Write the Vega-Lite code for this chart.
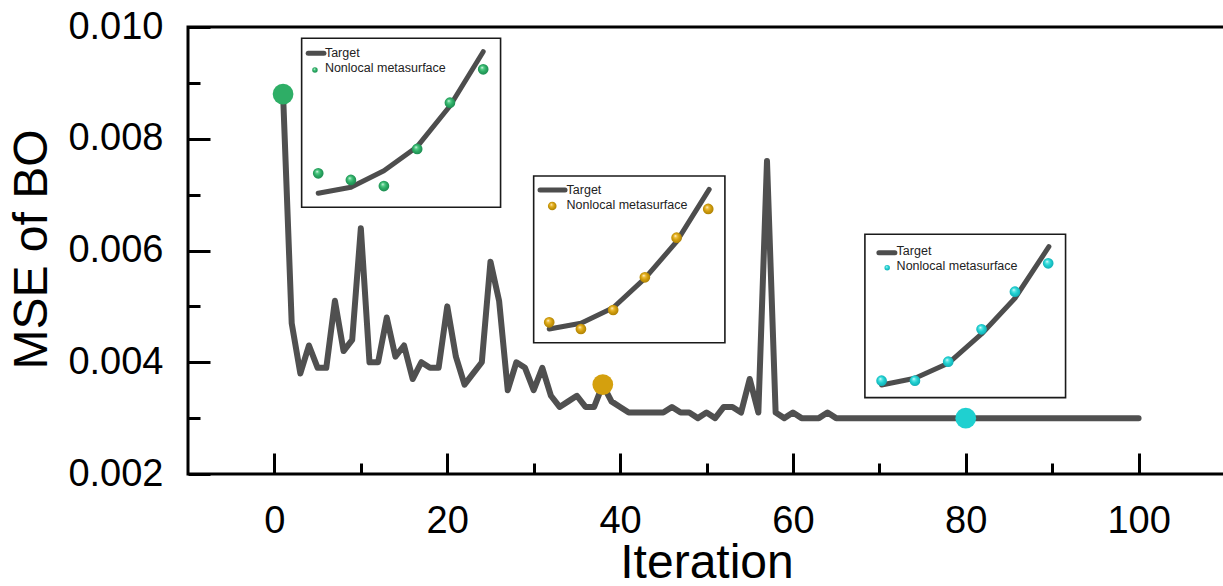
{
  "$schema": "https://vega.github.io/schema/vega-lite/v6.json",
  "width": 1037,
  "height": 447,
  "autosize": {"type": "none"},
  "padding": {"left": 188, "top": 27, "right": 0, "bottom": 112},
  "background": "white",
  "config": {
    "view": {"stroke": "#000", "strokeWidth": 3},
    "axis": {
      "domain": false, "grid": false, "tickColor": "#000", "tickWidth": 3,
      "labelColor": "#000", "titleColor": "#000",
      "labelFont": "Liberation Sans", "titleFont": "Liberation Sans",
      "labelFontSize": 38, "titleFontSize": 48, "titleFontWeight": "normal",
      "labelFlush": false, "labelOverlap": false
    },
    "text": {"font": "Liberation Sans"}
  },
  "datasets": {
    "main": [
      {"iteration": 1, "mse": 0.0088}, {"iteration": 2, "mse": 0.0047}, {"iteration": 3, "mse": 0.0038},
      {"iteration": 4, "mse": 0.0043}, {"iteration": 5, "mse": 0.0039}, {"iteration": 6, "mse": 0.0039},
      {"iteration": 7, "mse": 0.0051}, {"iteration": 8, "mse": 0.0042}, {"iteration": 9, "mse": 0.0044},
      {"iteration": 10, "mse": 0.0064}, {"iteration": 11, "mse": 0.0040}, {"iteration": 12, "mse": 0.0040},
      {"iteration": 13, "mse": 0.0048}, {"iteration": 14, "mse": 0.0041}, {"iteration": 15, "mse": 0.0043},
      {"iteration": 16, "mse": 0.0037}, {"iteration": 17, "mse": 0.0040}, {"iteration": 18, "mse": 0.0039},
      {"iteration": 19, "mse": 0.0039}, {"iteration": 20, "mse": 0.0050}, {"iteration": 21, "mse": 0.0041},
      {"iteration": 22, "mse": 0.0036}, {"iteration": 23, "mse": 0.0038}, {"iteration": 24, "mse": 0.0040},
      {"iteration": 25, "mse": 0.0058}, {"iteration": 26, "mse": 0.0051}, {"iteration": 27, "mse": 0.0035},
      {"iteration": 28, "mse": 0.0040}, {"iteration": 29, "mse": 0.0039}, {"iteration": 30, "mse": 0.0035},
      {"iteration": 31, "mse": 0.0039}, {"iteration": 32, "mse": 0.0034}, {"iteration": 33, "mse": 0.0032},
      {"iteration": 34, "mse": 0.0033}, {"iteration": 35, "mse": 0.0034}, {"iteration": 36, "mse": 0.0032},
      {"iteration": 37, "mse": 0.0032}, {"iteration": 38, "mse": 0.0036}, {"iteration": 39, "mse": 0.0033},
      {"iteration": 40, "mse": 0.0032}, {"iteration": 41, "mse": 0.0031}, {"iteration": 42, "mse": 0.0031},
      {"iteration": 43, "mse": 0.0031}, {"iteration": 44, "mse": 0.0031}, {"iteration": 45, "mse": 0.0031},
      {"iteration": 46, "mse": 0.0032}, {"iteration": 47, "mse": 0.0031}, {"iteration": 48, "mse": 0.0031},
      {"iteration": 49, "mse": 0.0030}, {"iteration": 50, "mse": 0.0031}, {"iteration": 51, "mse": 0.0030},
      {"iteration": 52, "mse": 0.0032}, {"iteration": 53, "mse": 0.0032}, {"iteration": 54, "mse": 0.0031},
      {"iteration": 55, "mse": 0.0037}, {"iteration": 56, "mse": 0.0031}, {"iteration": 57, "mse": 0.0076},
      {"iteration": 58, "mse": 0.0031}, {"iteration": 59, "mse": 0.0030}, {"iteration": 60, "mse": 0.0031},
      {"iteration": 61, "mse": 0.0030}, {"iteration": 62, "mse": 0.0030}, {"iteration": 63, "mse": 0.0030},
      {"iteration": 64, "mse": 0.0031}, {"iteration": 65, "mse": 0.0030}, {"iteration": 66, "mse": 0.0030},
      {"iteration": 67, "mse": 0.0030}, {"iteration": 68, "mse": 0.0030}, {"iteration": 69, "mse": 0.0030},
      {"iteration": 70, "mse": 0.0030}, {"iteration": 71, "mse": 0.0030}, {"iteration": 72, "mse": 0.0030},
      {"iteration": 73, "mse": 0.0030}, {"iteration": 74, "mse": 0.0030}, {"iteration": 75, "mse": 0.0030},
      {"iteration": 76, "mse": 0.0030}, {"iteration": 77, "mse": 0.0030}, {"iteration": 78, "mse": 0.0030},
      {"iteration": 79, "mse": 0.0030}, {"iteration": 80, "mse": 0.0030}, {"iteration": 81, "mse": 0.0030},
      {"iteration": 82, "mse": 0.0030}, {"iteration": 83, "mse": 0.0030}, {"iteration": 84, "mse": 0.0030},
      {"iteration": 85, "mse": 0.0030}, {"iteration": 86, "mse": 0.0030}, {"iteration": 87, "mse": 0.0030},
      {"iteration": 88, "mse": 0.0030}, {"iteration": 89, "mse": 0.0030}, {"iteration": 90, "mse": 0.0030},
      {"iteration": 91, "mse": 0.0030}, {"iteration": 92, "mse": 0.0030}, {"iteration": 93, "mse": 0.0030},
      {"iteration": 94, "mse": 0.0030}, {"iteration": 95, "mse": 0.0030}, {"iteration": 96, "mse": 0.0030},
      {"iteration": 97, "mse": 0.0030}, {"iteration": 98, "mse": 0.0030}, {"iteration": 99, "mse": 0.0030},
      {"iteration": 100, "mse": 0.0030}
    ],
    "highlight": [
      {"iteration": 1, "mse": 0.0088, "inset": "A"},
      {"iteration": 38, "mse": 0.0036, "inset": "B"},
      {"iteration": 80, "mse": 0.0030, "inset": "C"}
    ],
    "frames": [
      {"inset": "A", "x1": 3.15, "x2": 26.17, "y1": 0.006775, "y2": 0.0098},
      {"inset": "B", "x1": 30.0, "x2": 52.13, "y1": 0.00435, "y2": 0.007333},
      {"inset": "C", "x1": 68.33, "x2": 91.55, "y1": 0.003366, "y2": 0.00629}
    ],
    "target": [
      {"inset": "A", "x": 5.07, "y": 0.007024}, {"inset": "A", "x": 8.85, "y": 0.007131},
      {"inset": "A", "x": 12.67, "y": 0.007428}, {"inset": "A", "x": 16.52, "y": 0.007858},
      {"inset": "A", "x": 20.31, "y": 0.008586}, {"inset": "A", "x": 24.16, "y": 0.009558},
      {"inset": "B", "x": 31.80, "y": 0.004595}, {"inset": "B", "x": 35.47, "y": 0.004697},
      {"inset": "B", "x": 39.20, "y": 0.004976}, {"inset": "B", "x": 42.87, "y": 0.005502},
      {"inset": "B", "x": 46.54, "y": 0.006158}, {"inset": "B", "x": 50.31, "y": 0.007095},
      {"inset": "C", "x": 70.26, "y": 0.003593}, {"inset": "C", "x": 74.12, "y": 0.003713},
      {"inset": "C", "x": 77.97, "y": 0.003981}, {"inset": "C", "x": 81.83, "y": 0.004506},
      {"inset": "C", "x": 85.69, "y": 0.005145}, {"inset": "C", "x": 89.62, "y": 0.006068}
    ],
    "sim": [
      {"inset": "A", "x": 5.07, "y": 0.007382}, {"inset": "A", "x": 8.85, "y": 0.007262},
      {"inset": "A", "x": 12.67, "y": 0.007154}, {"inset": "A", "x": 16.52, "y": 0.007817},
      {"inset": "A", "x": 20.31, "y": 0.008645}, {"inset": "A", "x": 24.16, "y": 0.009243},
      {"inset": "B", "x": 31.80, "y": 0.004715}, {"inset": "B", "x": 35.47, "y": 0.004595},
      {"inset": "B", "x": 39.20, "y": 0.004935}, {"inset": "B", "x": 42.87, "y": 0.00552},
      {"inset": "B", "x": 46.54, "y": 0.006229}, {"inset": "B", "x": 50.20, "y": 0.006743},
      {"inset": "C", "x": 70.26, "y": 0.00367}, {"inset": "C", "x": 74.12, "y": 0.00367},
      {"inset": "C", "x": 77.97, "y": 0.00401}, {"inset": "C", "x": 81.83, "y": 0.00459},
      {"inset": "C", "x": 85.69, "y": 0.005263}, {"inset": "C", "x": 89.54, "y": 0.005771}
    ],
    "legendLine": [
      {"inset": "A", "x": 3.91, "y": 0.009529}, {"inset": "A", "x": 5.73, "y": 0.009529},
      {"inset": "B", "x": 30.74, "y": 0.007083}, {"inset": "B", "x": 33.63, "y": 0.007083},
      {"inset": "C", "x": 69.95, "y": 0.005961}, {"inset": "C", "x": 71.80, "y": 0.005961}
    ],
    "legendMarker": [
      {"inset": "A", "x": 4.69, "y": 0.00923},
      {"inset": "B", "x": 32.15, "y": 0.006796},
      {"inset": "C", "x": 70.91, "y": 0.005692}
    ],
    "legendText": [
      {"inset": "A", "x": 5.84, "y": 0.009529, "label": "Target"},
      {"inset": "A", "x": 5.84, "y": 0.009266, "label": "Nonlocal metasurface"},
      {"inset": "B", "x": 33.81, "y": 0.007083, "label": "Target"},
      {"inset": "B", "x": 33.81, "y": 0.006814, "label": "Nonlocal metasurface"},
      {"inset": "C", "x": 72.0, "y": 0.005991, "label": "Target"},
      {"inset": "C", "x": 72.0, "y": 0.005723, "label": "Nonlocal metasurface"}
    ]
  },
  "layer": [
    {
      "data": {"name": "main"},
      "mark": {"type": "line", "color": "#505050", "strokeWidth": 6, "strokeJoin": "round", "strokeCap": "round"},
      "encoding": {
        "x": {"field": "iteration", "type": "quantitative", "scale": {"domain": [-10, 110], "nice": false, "zero": false},
          "axis": {"values": [0, 20, 40, 60, 80, 100], "tickSize": -21, "labelPadding": 49, "title": "Iteration", "titleY": 103, "titleBaseline": "alphabetic"}},
        "y": {"field": "mse", "type": "quantitative", "scale": {"domain": [0.002, 0.010], "nice": false, "zero": false},
          "axis": {"values": [0.002, 0.004, 0.006, 0.008, 0.010], "format": ".3f", "tickSize": -22, "labelPadding": 47, "title": "MSE of BO", "titleX": -155.5, "titleY": 222, "titleBaseline": "middle", "titleAlign": "center", "titleAngle": -90}}
      }
    },
    {
      "data": {"name": "highlight"},
      "mark": {"type": "point", "filled": true, "size": 430, "opacity": 1},
      "encoding": {
        "x": {"field": "iteration", "type": "quantitative", "scale": {"domain": [-10, 110], "nice": false, "zero": false},
          "axis": {"values": [10, 30, 50, 70, 90], "tickSize": -11, "labels": false, "title": null, "orient": "bottom"}},
        "y": {"field": "mse", "type": "quantitative", "scale": {"domain": [0.002, 0.010], "nice": false, "zero": false},
          "axis": {"values": [0.003, 0.005, 0.007, 0.009], "tickSize": -12, "labels": false, "title": null, "orient": "left"}},
        "color": {"field": "inset", "type": "nominal", "scale": {"domain": ["A", "B", "C"], "range": ["#2eae66", "#d4a00e", "#1fd0d0"]}, "legend": null}
      }
    },
    {
      "data": {"name": "frames"},
      "mark": {"type": "rect", "fill": "white", "stroke": "#1a1a1a", "strokeWidth": 1.6},
      "encoding": {
        "x": {"field": "x1", "type": "quantitative", "scale": {"domain": [-10, 110], "nice": false, "zero": false}, "axis": null},
        "x2": {"field": "x2"},
        "y": {"field": "y1", "type": "quantitative", "scale": {"domain": [0.002, 0.010], "nice": false, "zero": false}, "axis": null},
        "y2": {"field": "y2"}
      }
    },
    {
      "data": {"name": "target"},
      "mark": {"type": "line", "color": "#4d4d4d", "strokeWidth": 5, "strokeCap": "round", "strokeJoin": "round"},
      "encoding": {
        "x": {"field": "x", "type": "quantitative", "scale": {"domain": [-10, 110], "nice": false, "zero": false}, "axis": null},
        "y": {"field": "y", "type": "quantitative", "scale": {"domain": [0.002, 0.010], "nice": false, "zero": false}, "axis": null},
        "detail": {"field": "inset", "type": "nominal"}
      }
    },
    {
      "data": {"name": "legendLine"},
      "mark": {"type": "line", "color": "#4d4d4d", "strokeWidth": 5, "strokeCap": "round"},
      "encoding": {
        "x": {"field": "x", "type": "quantitative", "scale": {"domain": [-10, 110], "nice": false, "zero": false}, "axis": null},
        "y": {"field": "y", "type": "quantitative", "scale": {"domain": [0.002, 0.010], "nice": false, "zero": false}, "axis": null},
        "detail": {"field": "inset", "type": "nominal"}
      }
    },
    {
      "data": {"name": "legendText"},
      "mark": {"type": "text", "align": "left", "baseline": "middle", "fontSize": 12.5, "color": "#222", "font": "Liberation Sans"},
      "encoding": {
        "x": {"field": "x", "type": "quantitative", "scale": {"domain": [-10, 110], "nice": false, "zero": false}, "axis": null},
        "y": {"field": "y", "type": "quantitative", "scale": {"domain": [0.002, 0.010], "nice": false, "zero": false}, "axis": null},
        "text": {"field": "label"}
      }
    },
    {
      "data": {"name": "sim"},
      "transform": [{"filter": "datum.inset == 'A'"}],
      "mark": {"type": "point", "filled": true, "size": 115, "opacity": 1,
        "fill": {"gradient": "radial", "x1": 0.38, "y1": 0.32, "r1": 0, "x2": 0.5, "y2": 0.5, "r2": 0.6,
          "stops": [{"offset": 0, "color": "#ffffff"}, {"offset": 0.22, "color": "#5cd08e"}, {"offset": 0.5, "color": "#2eae66"}, {"offset": 1, "color": "#17804a"}]}},
      "encoding": {
        "x": {"field": "x", "type": "quantitative", "scale": {"domain": [-10, 110], "nice": false, "zero": false}, "axis": null},
        "y": {"field": "y", "type": "quantitative", "scale": {"domain": [0.002, 0.010], "nice": false, "zero": false}, "axis": null}
      }
    },
    {
      "data": {"name": "sim"},
      "transform": [{"filter": "datum.inset == 'B'"}],
      "mark": {"type": "point", "filled": true, "size": 115, "opacity": 1,
        "fill": {"gradient": "radial", "x1": 0.38, "y1": 0.32, "r1": 0, "x2": 0.5, "y2": 0.5, "r2": 0.6,
          "stops": [{"offset": 0, "color": "#ffffff"}, {"offset": 0.22, "color": "#f0c040"}, {"offset": 0.5, "color": "#d4a00e"}, {"offset": 1, "color": "#a07600"}]}},
      "encoding": {
        "x": {"field": "x", "type": "quantitative", "scale": {"domain": [-10, 110], "nice": false, "zero": false}, "axis": null},
        "y": {"field": "y", "type": "quantitative", "scale": {"domain": [0.002, 0.010], "nice": false, "zero": false}, "axis": null}
      }
    },
    {
      "data": {"name": "sim"},
      "transform": [{"filter": "datum.inset == 'C'"}],
      "mark": {"type": "point", "filled": true, "size": 115, "opacity": 1,
        "fill": {"gradient": "radial", "x1": 0.38, "y1": 0.32, "r1": 0, "x2": 0.5, "y2": 0.5, "r2": 0.6,
          "stops": [{"offset": 0, "color": "#ffffff"}, {"offset": 0.22, "color": "#60e6e6"}, {"offset": 0.5, "color": "#1fd0d0"}, {"offset": 1, "color": "#0ea2ac"}]}},
      "encoding": {
        "x": {"field": "x", "type": "quantitative", "scale": {"domain": [-10, 110], "nice": false, "zero": false}, "axis": null},
        "y": {"field": "y", "type": "quantitative", "scale": {"domain": [0.002, 0.010], "nice": false, "zero": false}, "axis": null}
      }
    },
    {
      "data": {"name": "legendMarker"},
      "transform": [{"filter": "datum.inset == 'A'"}],
      "mark": {"type": "point", "filled": true, "size": 30, "opacity": 1,
        "fill": {"gradient": "radial", "x1": 0.38, "y1": 0.32, "r1": 0, "x2": 0.5, "y2": 0.5, "r2": 0.6,
          "stops": [{"offset": 0, "color": "#ffffff"}, {"offset": 0.22, "color": "#5cd08e"}, {"offset": 0.5, "color": "#2eae66"}, {"offset": 1, "color": "#17804a"}]}},
      "encoding": {
        "x": {"field": "x", "type": "quantitative", "scale": {"domain": [-10, 110], "nice": false, "zero": false}, "axis": null},
        "y": {"field": "y", "type": "quantitative", "scale": {"domain": [0.002, 0.010], "nice": false, "zero": false}, "axis": null}
      }
    },
    {
      "data": {"name": "legendMarker"},
      "transform": [{"filter": "datum.inset == 'B'"}],
      "mark": {"type": "point", "filled": true, "size": 75, "opacity": 1,
        "fill": {"gradient": "radial", "x1": 0.38, "y1": 0.32, "r1": 0, "x2": 0.5, "y2": 0.5, "r2": 0.6,
          "stops": [{"offset": 0, "color": "#ffffff"}, {"offset": 0.22, "color": "#f0c040"}, {"offset": 0.5, "color": "#d4a00e"}, {"offset": 1, "color": "#a07600"}]}},
      "encoding": {
        "x": {"field": "x", "type": "quantitative", "scale": {"domain": [-10, 110], "nice": false, "zero": false}, "axis": null},
        "y": {"field": "y", "type": "quantitative", "scale": {"domain": [0.002, 0.010], "nice": false, "zero": false}, "axis": null}
      }
    },
    {
      "data": {"name": "legendMarker"},
      "transform": [{"filter": "datum.inset == 'C'"}],
      "mark": {"type": "point", "filled": true, "size": 30, "opacity": 1,
        "fill": {"gradient": "radial", "x1": 0.38, "y1": 0.32, "r1": 0, "x2": 0.5, "y2": 0.5, "r2": 0.6,
          "stops": [{"offset": 0, "color": "#ffffff"}, {"offset": 0.22, "color": "#60e6e6"}, {"offset": 0.5, "color": "#1fd0d0"}, {"offset": 1, "color": "#0ea2ac"}]}},
      "encoding": {
        "x": {"field": "x", "type": "quantitative", "scale": {"domain": [-10, 110], "nice": false, "zero": false}, "axis": null},
        "y": {"field": "y", "type": "quantitative", "scale": {"domain": [0.002, 0.010], "nice": false, "zero": false}, "axis": null}
      }
    }
  ],
  "resolve": {"axis": {"x": "independent", "y": "independent"}}
}
